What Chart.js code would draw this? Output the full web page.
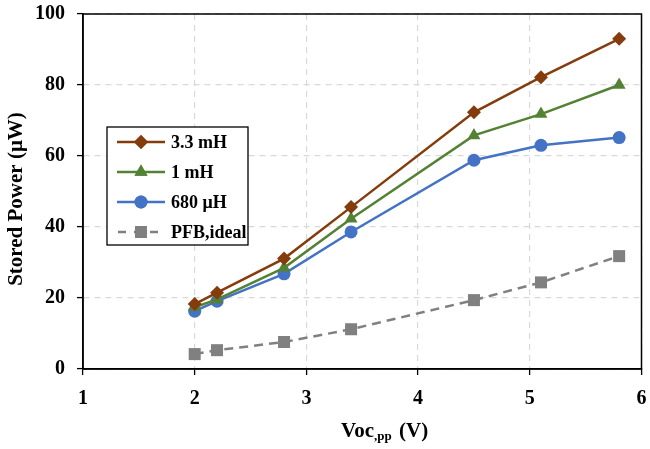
<!DOCTYPE html>
<html><head><meta charset="utf-8">
<script src="https://cdn.jsdelivr.net/npm/chart.js@4"></script>
<style>html,body{margin:0;padding:0;background:#fff}#wrap{width:650px;height:449px}</style>
</head><body><div id="wrap"><canvas id="c" width="650" height="449"></canvas></div>
<script>
const vocPP = [2, 2.2, 2.8, 3.4, 4.5, 5.1, 5.8];
const seriesNames = ["3.3 mH", "1 mH", "680 μH", "PFB,ideal"];
const power33mH = [18.3, 21.5, 31.1, 45.6, 72.3, 82.2, 93.0];
const power1mH = [17.4, 19.6, 28.5, 42.3, 65.8, 71.8, 80.0];
const power680uH = [16.3, 19.1, 26.8, 38.6, 58.8, 63.0, 65.2];
const powerPFB = [4.2, 5.3, 7.6, 11.2, 19.4, 24.4, 31.8];
const xTicks = [1, 2, 3, 4, 5, 6];
const yTicks = [0, 20, 40, 60, 80, 100];

const FONT = "'Liberation Serif', 'Times New Roman', serif";
const pts = arr => vocPP.map((x, i) => ({x, y: arr[i]}));

const styles = [
  {color: '#843C0C', point: 'rectRot', r: 7, dash: []},
  {color: '#548235', point: 'triangle', r: 7.5, dash: []},
  {color: '#4472C4', point: 'circle', r: 6.5, dash: []},
  {color: '#808080', point: 'rect', r: 8.5, dash: [9, 6]}
];
const allData = [power33mH, power1mH, power680uH, powerPFB];

const datasets = allData.map((d, i) => ({
  label: seriesNames[i],
  data: pts(d),
  borderColor: styles[i].color,
  backgroundColor: styles[i].color,
  borderWidth: 2.5,
  borderDash: styles[i].dash,
  pointStyle: styles[i].point,
  pointRadius: styles[i].r,
  pointHoverRadius: styles[i].r,
  pointBorderWidth: 0,
  pointBackgroundColor: styles[i].color,
  tension: 0,
  clip: false
}));

const deco = {
  id: 'deco',
  afterDraw(chart) {
    const ctx = chart.ctx, a = chart.chartArea;
    ctx.save();
    ctx.strokeStyle = '#000'; ctx.lineWidth = 1.5; ctx.setLineDash([]);
    ctx.strokeRect(a.left, a.top, a.right - a.left, a.bottom - a.top);
    ctx.fillStyle = '#000';
    ctx.font = "bold 21px " + FONT;
    ctx.textAlign = 'center'; ctx.textBaseline = 'middle';
    ctx.save();
    ctx.translate(17, 199); ctx.rotate(-Math.PI / 2);
    ctx.fillText('Stored Power (μW)', 0, 0);
    ctx.restore();
    ctx.textAlign = 'left'; ctx.textBaseline = 'alphabetic';
    const big = "bold 21px " + FONT, small = "bold 13px " + FONT;
    const p1 = 'Voc', p2 = ',pp', p3 = ' (V)';
    ctx.font = big; const w1 = ctx.measureText(p1).width;
    ctx.font = small; const w2 = ctx.measureText(p2).width;
    let x = 341; const base = 437;
    ctx.font = big; ctx.fillText(p1, x, base); x += w1;
    ctx.font = small; ctx.fillText(p2, x, base + 3); x += w2 + 2;
    ctx.font = big; ctx.fillText(p3, x, base);
    const L = {x: 107, y: 127, w: 141, h: 118};
    ctx.fillStyle = '#fff'; ctx.fillRect(L.x, L.y, L.w, L.h);
    ctx.strokeStyle = '#000'; ctx.lineWidth = 1.3; ctx.strokeRect(L.x, L.y, L.w, L.h);
    const rows = [142, 172, 202, 232];
    chart.data.datasets.forEach((ds, i) => {
      const y = rows[i];
      ctx.strokeStyle = ds.borderColor; ctx.lineWidth = 2.5;
      ctx.setLineDash(ds.borderDash.length ? [8, 8] : []);
      ctx.lineDashOffset = ds.borderDash.length ? -1 : 0;
      ctx.beginPath(); ctx.moveTo(117, y); ctx.lineTo(165, y); ctx.stroke();
      ctx.setLineDash([]);
      ctx.fillStyle = ds.borderColor;
      Chart.helpers.drawPoint(ctx, {pointStyle: ds.pointStyle, radius: ds.pointRadius, rotation: 0, borderWidth: 0}, 141, y);
      ctx.fill();
      ctx.fillStyle = '#000';
      ctx.font = "bold 18px " + FONT;
      ctx.textBaseline = 'middle';
      ctx.fillText(ds.label, 171, y + 1);
    });
    ctx.restore();
  }
};

const gridOpts = {color: '#d9d9d9', lineWidth: 1.2, drawTicks: true, tickLength: 6, tickColor: '#000', tickBorderDash: [], tickWidth: 1.3};
const borderOpts = {display: true, color: '#000', width: 1.5, dash: [6, 5]};

new Chart(document.getElementById('c'), {
  type: 'line',
  data: {datasets},
  options: {
    responsive: false,
    animation: false,
    layout: {padding: {left: 0, right: 8, top: 14, bottom: 0}},
    plugins: {legend: {display: false}, tooltip: {enabled: false}},
    scales: {
      x: {
        type: 'linear', min: 1, max: 6,
        afterBuildTicks: s => { s.ticks = xTicks.map(v => ({value: v})); },
        afterFit: s => { s.height = 80; s.paddingLeft = 0; s.paddingRight = 0; },
        grid: gridOpts,
        border: borderOpts,
        ticks: {color: '#000', font: {family: FONT, size: 20, weight: 'bold'}, padding: 12, maxRotation: 0}
      },
      y: {
        min: 0, max: 100,
        afterBuildTicks: s => { s.ticks = yTicks.map(v => ({value: v})); },
        afterFit: s => { s.width = 83; s.paddingTop = 0; s.paddingBottom = 0; },
        grid: gridOpts,
        border: borderOpts,
        ticks: {color: '#000', font: {family: FONT, size: 20, weight: 'bold'}, padding: 12}
      }
    }
  },
  plugins: [deco]
});
</script></body></html>
